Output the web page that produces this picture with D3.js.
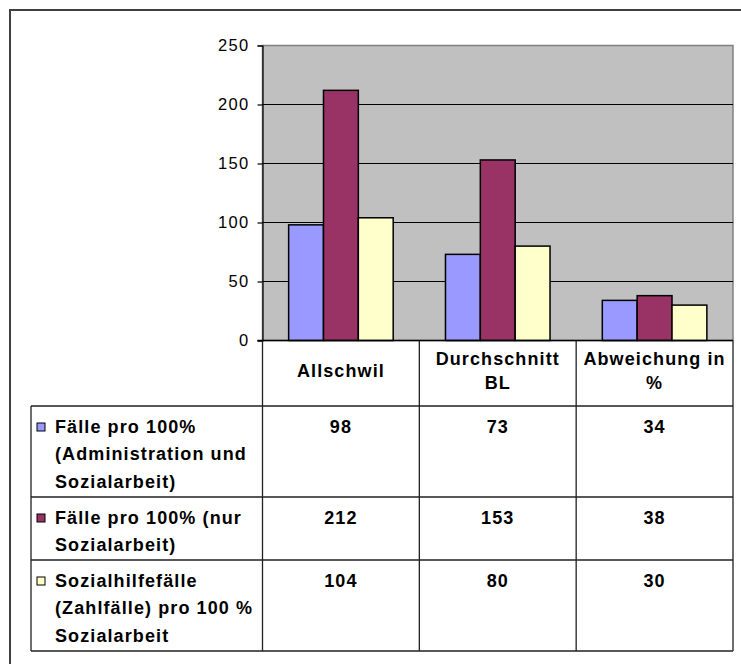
<!DOCTYPE html>
<html>
<head>
<meta charset="utf-8">
<script src="https://cdn.jsdelivr.net/npm/d3@7"></script>
<style>
  body { margin: 0; background: #fff; }
  svg { display: block; font-family: "Liberation Sans", Arial, sans-serif; }
</style>
</head>
<body>
<svg id="chart" width="741" height="664"></svg>
<script>
// chart data
var categories = ["Allschwil", "Durchschnitt BL", "Abweichung in %"];
var categoryLines = [["Allschwil"], ["Durchschnitt", "BL"], ["Abweichung in", "%"]];
var seriesLines = [
  ["Fälle pro 100%", "(Administration und", "Sozialarbeit)"],
  ["Fälle pro 100% (nur", "Sozialarbeit)"],
  ["Sozialhilfefälle", "(Zahlfälle) pro 100 %", "Sozialarbeit"]
];
var seriesA = [98, 73, 34];
var seriesB = [212, 153, 38];
var seriesC = [104, 80, 30];
var yTicks = [0, 50, 100, 150, 200, 250];

var seriesValues = [seriesA, seriesB, seriesC];
var colors = ["#9999ff", "#993366", "#ffffcc"];

var svg = d3.select("#chart");

// outer frame (cropped at right and bottom)
svg.append("path")
  .attr("d", "M10,664 L10,10 L741,10")
  .attr("fill", "none").attr("stroke", "#404040").attr("stroke-width", 2);

var plot = {left: 262.5, right: 733, top: 45.5, bottom: 340.5};
var tableLeft = 31;

var x = d3.scaleBand().domain(categories).range([plot.left, plot.right]).padding(0);
var y = d3.scaleLinear().domain([0, 250]).range([plot.bottom, plot.top]);

// plot background
svg.append("rect")
  .attr("x", plot.left).attr("y", plot.top)
  .attr("width", plot.right - plot.left).attr("height", plot.bottom - plot.top)
  .attr("fill", "#c0c0c0").attr("stroke", "#808080").attr("stroke-width", 1.5);

// gridlines
svg.append("g").selectAll("line")
  .data(yTicks.filter(function(d) { return d > 0 && d < 250; }))
  .join("line")
  .attr("x1", plot.left).attr("x2", plot.right)
  .attr("y1", function(d) { return y(d); }).attr("y2", function(d) { return y(d); })
  .attr("stroke", "#000").attr("stroke-width", 1.2);

// bars: 3 bars per group, gap width 150%
var groupW = x.bandwidth() * 3 / 4.5;
var xs = d3.scaleBand().domain([0, 1, 2]).range([0, groupW]).padding(0);
var barOffset = (x.bandwidth() - groupW) / 2;

seriesValues.forEach(function(vals, s) {
  svg.append("g").selectAll("rect")
    .data(vals)
    .join("rect")
    .attr("x", function(d, i) { return x(categories[i]) + barOffset + xs(s); })
    .attr("y", function(d) { return y(d); })
    .attr("width", xs.bandwidth())
    .attr("height", function(d) { return y(0) - y(d); })
    .attr("fill", colors[s])
    .attr("stroke", "#000").attr("stroke-width", 1.5);
});

// y axis
var yAxis = svg.append("g")
  .attr("transform", "translate(" + plot.left + ",0)")
  .call(d3.axisLeft(y).tickValues(yTicks).tickSize(5).tickPadding(8));
yAxis.select(".domain").attr("stroke", "#000").attr("stroke-width", 1.2);
yAxis.selectAll(".tick line").attr("stroke", "#000").attr("stroke-width", 1.2);
yAxis.selectAll(".tick text")
  .attr("font-size", 16.5).attr("letter-spacing", 1.3)
  .attr("fill", "#000")
  .attr("font-family", "Liberation Sans, Arial, sans-serif");

// data table
var lineH = 28;
var rowHeights = seriesLines.map(function(l) { return l.length * lineH + 7; });
var headerBottom = 406;
var rowTops = [headerBottom];
rowHeights.forEach(function(h, i) { rowTops.push(rowTops[i] + h); });
var tableBottom = rowTops[rowTops.length - 1];

var tbl = svg.append("g").attr("stroke", "#202020").attr("stroke-width", 1.3);
// x axis / header top
tbl.append("line").attr("x1", plot.left - 5).attr("x2", plot.right)
  .attr("y1", plot.bottom).attr("y2", plot.bottom).attr("stroke", "#000");
// horizontal rules
tbl.selectAll("line.h")
  .data(rowTops)
  .join("line").attr("class", "h")
  .attr("x1", tableLeft).attr("x2", plot.right)
  .attr("y1", function(d) { return d; }).attr("y2", function(d) { return d; });
// vertical rules
var colEdges = categories.map(function(c) { return x(c); }).concat([plot.right]);
tbl.selectAll("line.v")
  .data(colEdges)
  .join("line").attr("class", "v")
  .attr("x1", function(d) { return d; }).attr("x2", function(d) { return d; })
  .attr("y1", plot.bottom).attr("y2", tableBottom);
tbl.append("line").attr("x1", tableLeft).attr("x2", tableLeft)
  .attr("y1", headerBottom).attr("y2", tableBottom);

var textStyle = function(sel) {
  sel.attr("font-size", 18).attr("font-weight", "bold")
    .attr("letter-spacing", 1.1).attr("fill", "#000");
};

// header labels
categoryLines.forEach(function(lines, i) {
  var cx = x(categories[i]) + x.bandwidth() / 2;
  svg.append("text")
    .attr("text-anchor", "middle")
    .call(textStyle)
    .selectAll("tspan")
    .data(lines)
    .join("tspan")
    .attr("x", cx)
    .attr("y", function(d, k) { return 377 + (k - (lines.length - 1) / 2) * 23.5; })
    .text(function(d) { return d; });
});

// series rows
seriesLines.forEach(function(lines, s) {
  var top = rowTops[s];
  svg.append("rect")
    .attr("x", 37).attr("y", top + 17)
    .attr("width", 8).attr("height", 8)
    .attr("fill", colors[s]).attr("stroke", "#000").attr("stroke-width", 1);
  svg.append("text")
    .call(textStyle)
    .selectAll("tspan")
    .data(lines)
    .join("tspan")
    .attr("x", 55)
    .attr("y", function(d, k) { return top + 26.5 + k * 27.5; })
    .text(function(d) { return d; });
  svg.append("g").selectAll("text")
    .data(seriesValues[s])
    .join("text")
    .attr("text-anchor", "middle")
    .call(textStyle)
    .attr("x", function(d, i) { return x(categories[i]) + x.bandwidth() / 2; })
    .attr("y", top + 26.5)
    .text(function(d) { return d; });
});
</script>
</body>
</html>
